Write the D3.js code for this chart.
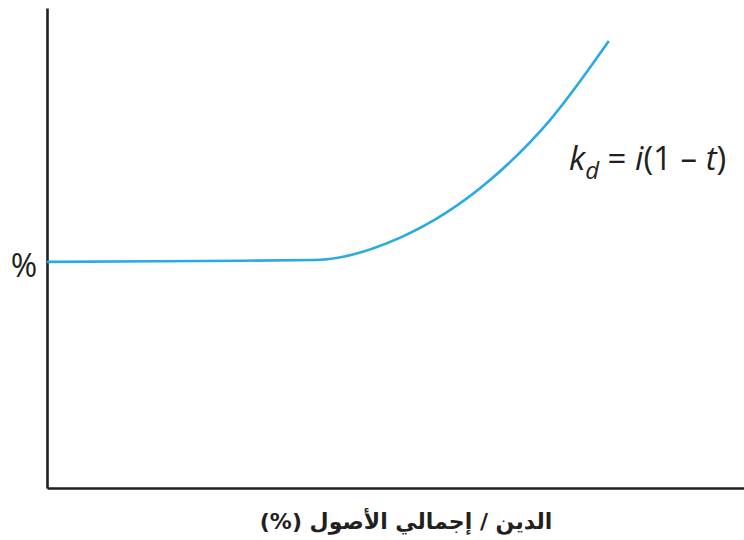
<!DOCTYPE html>
<html><head><meta charset="utf-8">
<script src="https://cdn.jsdelivr.net/npm/d3@7"></script>
<style>html,body{margin:0;padding:0;background:#fff;}svg{display:block;}</style>
</head><body>
<svg id="c" width="744" height="540"></svg>
<script>
const debtRatio = [0, 22, 38.45, 50.6, 63.6, 72.2, 80.6];
const costOfDebt = [47.1, 47.3, 47.5, 52.1, 64.2, 76.7, 93.1];
const yLabel = "%";
const xTitle = "الدين / إجمالي الأصول (%)";

const svg = d3.select("#c");
const x = d3.scaleLinear().domain([0, 100]).range([47, 744]);
const y = d3.scaleLinear().domain([0, 100]).range([488, 8]);
const axisColor = "#231f20";

svg.append("g").attr("transform", `translate(0,${y(0)})`)
  .call(d3.axisBottom(x).ticks(0).tickSize(0).tickSizeOuter(0))
  .call(g => g.select(".domain").attr("stroke", axisColor).attr("stroke-width", 2.6));
svg.append("g").attr("transform", `translate(${x(0)},0)`)
  .call(d3.axisLeft(y).ticks(0).tickSize(0).tickSizeOuter(0))
  .call(g => g.select(".domain").attr("stroke", axisColor).attr("stroke-width", 2.6));

const pts = debtRatio.map((d, i) => [d, costOfDebt[i]]);
svg.append("path").datum(pts)
  .attr("fill", "none").attr("stroke", "#29abe2").attr("stroke-width", 2.6)
  .attr("d", d3.line().x(d => x(d[0])).y(d => y(d[1])).curve(d3.curveMonotoneX));

svg.append("text").attr("x", 24).attr("y", 277).attr("text-anchor", "middle")
  .attr("font-family", "Open Sans, sans-serif").attr("font-size", 32).attr("fill", "#231f20")
  .text(yLabel);

const lab = svg.append("text").attr("x", 569).attr("y", 170)
  .attr("font-family", "Open Sans, sans-serif").attr("font-size", 33).attr("fill", "#231f20");
lab.append("tspan").attr("font-style", "italic").text("k");
lab.append("tspan").attr("font-style", "italic").attr("font-size", 24).attr("dy", 9).text("d");
lab.append("tspan").attr("dy", -9).text(" = ");
lab.append("tspan").attr("font-style", "italic").text("i");
lab.append("tspan").text("(1 – ");
lab.append("tspan").attr("font-style", "italic").text("t");
lab.append("tspan").text(")");

svg.append("text").attr("x", 406).attr("y", 529).attr("text-anchor", "middle")
  .attr("direction", "rtl")
  .attr("font-family", "DejaVu Sans, sans-serif").attr("font-weight", "bold")
  .attr("font-size", 22).attr("fill", "#231f20")
  .text(xTitle);
</script>
</body></html>
